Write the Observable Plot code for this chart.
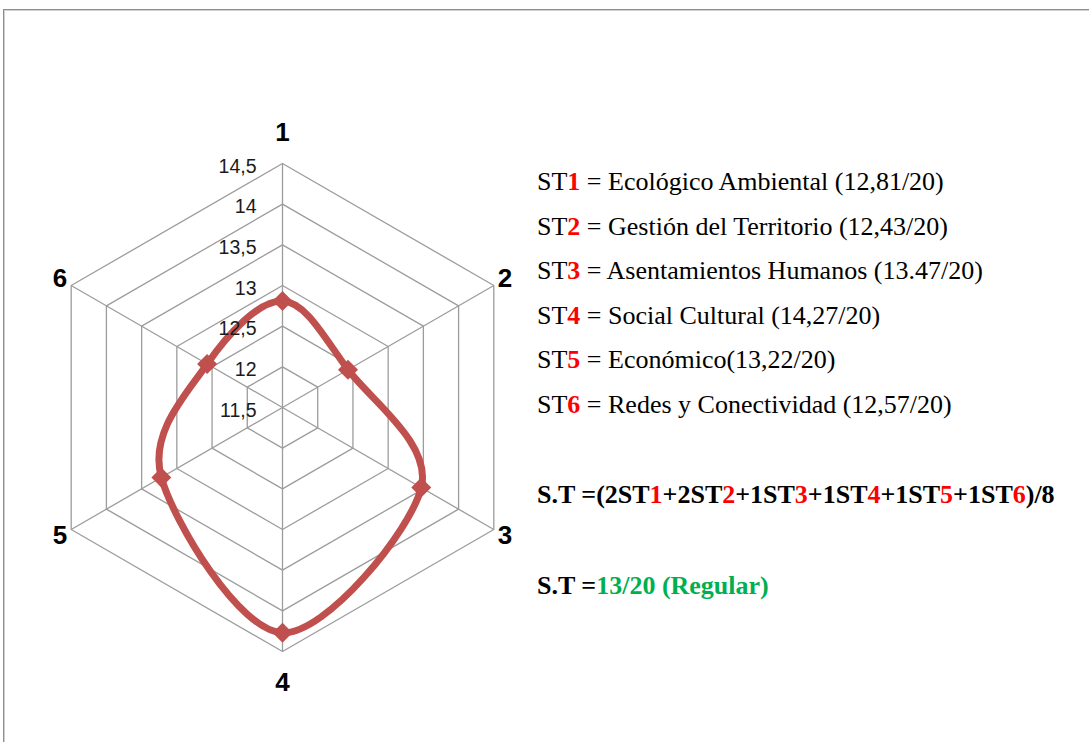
<!DOCTYPE html>
<html><head><meta charset="utf-8">
<script src="https://cdn.jsdelivr.net/npm/d3@7"></script>
<script src="https://cdn.jsdelivr.net/npm/@observablehq/plot@0.6"></script>
<style>
html,body{margin:0;padding:0;background:#fff;overflow:hidden;width:1089px;height:742px;}
#wrap{position:relative;width:1089px;height:742px;overflow:hidden;}
#border{position:absolute;left:3px;top:9px;width:1200px;height:900px;border-top:1px solid #8f8f8f;border-left:1px solid #8f8f8f;box-shadow:inset 1px 1px 0 #d0d0d0;}
#chart{position:absolute;left:0;top:0;}
#legend{position:absolute;left:537px;top:0;font-family:"Liberation Serif","Times New Roman",serif;font-size:26px;color:#000;}
.ln{position:absolute;left:0;white-space:nowrap;line-height:30px;}
.r{color:#ff0000;font-weight:bold}.g{color:#00b050}.b{font-weight:bold}
</style></head>
<body><div id="wrap"><div id="border"></div><div id="chart"></div><div id="legend"></div></div>
<script>
// ---- data ----
const axes = ["1", "2", "3", "4", "5", "6"];
const values = [12.81, 12.43, 13.47, 14.27, 13.22, 12.57];
const ticks = [11.5, 12, 12.5, 13, 13.5, 14, 14.5];
const tickLabels = ["11,5", "12", "12,5", "13", "13,5", "14", "14,5"];
const legendNames = [
  "Ecológico Ambiental (12,81/20)",
  "Gestión del Territorio (12,43/20)",
  "Asentamientos Humanos (13.47/20)",
  "Social Cultural (14,27/20)",
  "Económico(13,22/20)",
  "Redes y Conectividad (12,57/20)"
];
const weights = [2, 2, 1, 1, 1, 1];
const divisor = "8";
const resultText = "13/20 (Regular)";

// ---- radar geometry via Plot projection ----
const RMIN = ticks[0], RMAX = ticks[ticks.length - 1];
const DEG = 10;
const lon = (i) => 180 - 60 * i;
const lat = (v) => 90 - (v - RMIN) * DEG;

const rings = ticks.slice(1).flatMap(t => axes.map((a, i) => ({t, lon: lon(i), lat: lat(t)})));
const spokes = axes.map((a, i) => ({axis: a, lon: lon(i)}));
const pts = axes.map((a, i) => ({axis: a, value: values[i], lon: lon(i), lat: lat(values[i])}));
const tickRows = ticks.map((t, i) => ({t, label: tickLabels[i]}));
const axisRows = axes.map((a, i) => ({axis: a, lon: lon(i), vertical: i === 0 || i === 3}));

const grid = "#9c9c9c";
const red = "#c0504d";
const sans = "Liberation Sans, Arial, sans-serif";

const chart = Plot.plot({
  width: 1089, height: 742,
  marginLeft: 38, marginRight: 563, marginTop: 163, marginBottom: 91,
  projection: {
    type: "azimuthal-equidistant",
    rotate: [0, -90],
    clip: false,
    domain: d3.geoCircle().center([0, 90]).radius((RMAX - RMIN) * DEG)()
  },
  style: {background: "transparent", overflow: "visible"},
  marks: [
    Plot.line(rings, {x: "lon", y: "lat", z: "t", curve: "linear-closed", stroke: grid, strokeWidth: 1.3}),
    Plot.link(spokes, {x1: "lon", y1: 90, x2: "lon", y2: lat(RMAX), stroke: grid, strokeWidth: 1.3}),
    Plot.line(pts, {x: "lon", y: "lat", curve: "cardinal-closed", tension: 0, stroke: red, strokeWidth: 7}),
    Plot.dot(pts, {x: "lon", y: "lat", symbol: "diamond2", r: 9, fill: red, stroke: "none"}),
    Plot.text(tickRows, {x: lon(0), y: d => lat(d.t), text: "label", textAnchor: "end", dx: -26, dy: 3,
      fontSize: 19.5, fill: "#1a1a1a", fontFamily: sans}),
    Plot.text(axisRows.filter(d => d.vertical), {x: "lon", y: lat(RMAX + 0.38), text: "axis",
      fontSize: 26, fontWeight: "bold", fill: "#000", fontFamily: sans}),
    Plot.text(axisRows.filter(d => !d.vertical), {x: "lon", y: lat(RMAX + 0.16), text: "axis",
      fontSize: 26, fontWeight: "bold", fill: "#000", fontFamily: sans})
  ]
});
document.getElementById("chart").appendChild(chart);

// ---- legend / annotation text ----
const legend = document.getElementById("legend");
function addLine(top, html, cls) {
  const div = document.createElement("div");
  div.className = "ln" + (cls ? " " + cls : "");
  div.style.top = top + "px";
  div.innerHTML = html;
  legend.appendChild(div);
}
legendNames.forEach((name, i) => {
  addLine(167 + i * 44.6, `ST<span class="r">${axes[i]}</span> = ${name}`);
});
const formula = weights.map((w, i) => `${w}ST<span class="r">${axes[i]}</span>`).join("+");
addLine(480, `S.T =(${formula})/${divisor}`, "b");
addLine(571, `S.T =<span class="g">${resultText}</span>`, "b");
</script>
</body></html>
